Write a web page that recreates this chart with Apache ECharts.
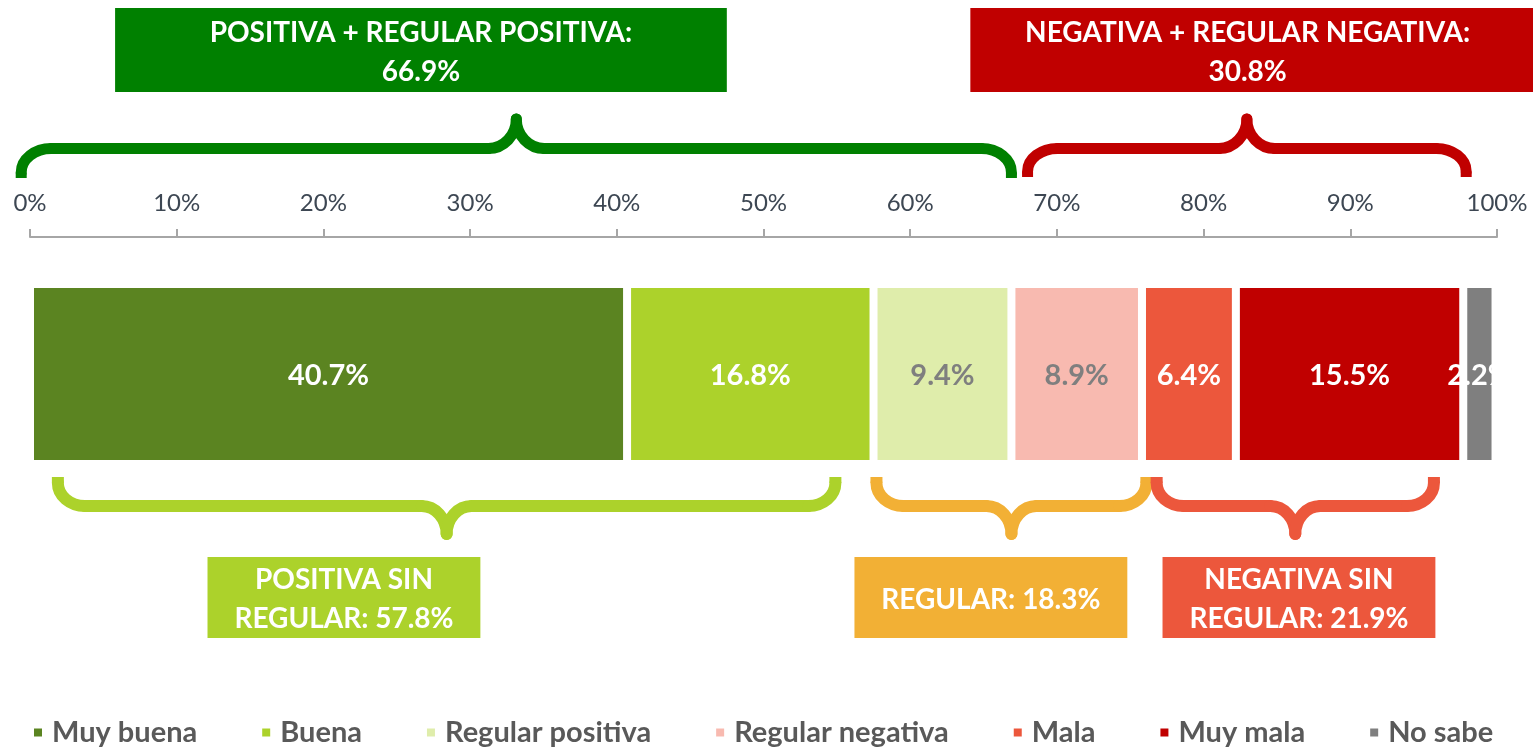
<!DOCTYPE html>
<html>
<head>
<meta charset="utf-8">
<title>Valoración</title>
<script src="https://cdn.jsdelivr.net/npm/echarts@6/dist/echarts.min.js"></script>
<style>
  html, body { margin: 0; padding: 0; background: #fff; }
  #chart { width: 1533px; height: 749px; }
</style>
</head>
<body>
<div id="chart"></div>
<script>
// datos
var categories = ['Muy buena', 'Buena', 'Regular positiva', 'Regular negativa', 'Mala', 'Muy mala', 'No sabe'];
var values = [40.7, 16.8, 9.4, 8.9, 6.4, 15.5, 2.2];
var groupTitles = ['POSITIVA + REGULAR POSITIVA:', 'NEGATIVA + REGULAR NEGATIVA:', 'POSITIVA SIN\nREGULAR:', 'REGULAR:', 'NEGATIVA SIN\nREGULAR:'];
var groupValues = [66.9, 30.8, 57.8, 18.3, 21.9];

var colors = ['#5b8421', '#acd22b', '#dfedab', '#f8bab0', '#ec573c', '#c00000', '#7f7f7f'];
var labelColors = ['#fff', '#fff', '#7f7f7f', '#7f7f7f', '#fff', '#fff', '#fff'];
var FONT = 'Lato, "Open Sans", sans-serif';

var chart = echarts.init(document.getElementById('chart'));

var series = categories.map(function (name, i) {
    return {
        name: name,
        type: 'bar',
        stack: 'total',
        barWidth: 180,
        data: [values[i]],
        itemStyle: { color: colors[i], borderColor: '#fff', borderWidth: 4 },
        label: {
            show: true,
            position: 'inside',
            offset: [0, 2],
            formatter: '{c}%',
            color: labelColors[i],
            fontFamily: FONT,
            fontWeight: 'bold',
            fontSize: 29
        },
        emphasis: { disabled: true }
    };
});

var option = {
    animation: false,
    grid: { left: 30, right: 36, top: 237, height: 274 },
    xAxis: {
        type: 'value',
        position: 'top',
        min: 0,
        max: 100,
        interval: 10,
        axisLine: { show: true, lineStyle: { color: '#a6a6a6', width: 2 } },
        axisTick: { show: true, length: 8, lineStyle: { color: '#a6a6a6', width: 2 } },
        splitLine: { show: false },
        axisLabel: {
            formatter: '{value}%',
            margin: 22,
            color: '#3d4753',
            fontFamily: FONT,
            fontSize: 24
        }
    },
    yAxis: {
        type: 'category',
        data: [''],
        show: false
    },
    legend: {
        data: categories,
        left: 27,
        top: 713,
        icon: 'rect',
        itemWidth: 10,
        itemHeight: 10,
        itemGap: 63,
        selectedMode: false,
        textStyle: {
            color: '#595959',
            fontFamily: FONT,
            fontWeight: 'bold',
            fontSize: 29,
            padding: [0, 0, 0, 4]
        }
    },
    series: series
};
chart.setOption(option);

// llaves y cajas de agrupación (posiciones en % del eje)
function px(p) {
    return chart.convertToPixel({ xAxisIndex: 0 }, p);
}

var K = 0.5523;
function curve(P, C, Q, color, w) {
    // cuarto de curva de P a Q con esquina C
    return {
        type: 'bezierCurve',
        shape: {
            x1: P[0], y1: P[1], x2: Q[0], y2: Q[1],
            cpx1: P[0] + K * (C[0] - P[0]), cpy1: P[1] + K * (C[1] - P[1]),
            cpx2: Q[0] + K * (C[0] - Q[0]), cpy2: Q[1] + K * (C[1] - Q[1])
        },
        style: { fill: null, stroke: color, lineWidth: w, lineCap: 'round' },
        silent: true
    };
}
function seg(xa, xb, y, color, w) {
    return {
        type: 'line',
        shape: { x1: xa, y1: y, x2: xb, y2: y },
        style: { stroke: color, lineWidth: w, lineCap: 'round' },
        silent: true
    };
}
function brace(out, x0, x1, b) {
    var xm = (x0 + x1) / 2;
    var dir = b.yEnd > b.yLine ? 1 : -1;
    // extremos: se acortan media línea para simular el corte recto
    var yE = b.yEnd - dir * b.w / 2;
    out.push(curve([x0, yE], [x0, b.yLine], [x0 + b.rEnd, b.yLine], b.color, b.w));
    out.push(seg(x0 + b.rEnd, xm - b.rTip, b.yLine, b.color, b.w));
    out.push(curve([xm - b.rTip, b.yLine], [xm, b.yLine], [xm, b.yTip], b.color, b.w));
    out.push(curve([xm, b.yTip], [xm, b.yLine], [xm + b.rTip, b.yLine], b.color, b.w));
    out.push(seg(xm + b.rTip, x1 - b.rEnd, b.yLine, b.color, b.w));
    out.push(curve([x1 - b.rEnd, b.yLine], [x1, b.yLine], [x1, yE], b.color, b.w));
    // relleno del corte recto en los extremos
    [x0, x1].forEach(function (x) {
        out.push({
            type: 'rect',
            shape: { x: x - b.w / 2, y: Math.min(yE, b.yEnd), width: b.w, height: Math.abs(b.yEnd - yE) },
            style: { fill: b.color },
            silent: true
        });
    });
}

var braces = [
    { from: -0.6, to: 66.9, color: '#008000', yEnd: 178, yLine: 148.5, yTip: 119, w: 11, rEnd: 30, rTip: 28 },
    { from: 68.0, to: 97.9, color: '#c00000', yEnd: 177, yLine: 148.5, yTip: 119, w: 11, rEnd: 30, rTip: 28 },
    { from: 1.9, to: 54.9, color: '#acd22b', yEnd: 477, yLine: 506, yTip: 534, w: 12, rEnd: 27, rTip: 25 },
    { from: 57.7, to: 76.1, color: '#f2b035', yEnd: 477, yLine: 506, yTip: 534, w: 12, rEnd: 27, rTip: 25 },
    { from: 76.8, to: 95.7, color: '#ec573c', yEnd: 477, yLine: 506, yTip: 534, w: 12, rEnd: 27, rTip: 25 }
];
// textTo: borde derecho usado para centrar el texto
var boxes = [
    { from: 5.8, to: 47.5, textTo: 47.5, top: 8, bottom: 92, color: '#008000' },
    { from: 64.1, to: 103, textTo: 101.9, top: 8, bottom: 92, color: '#c00000' },
    { from: 12.1, to: 30.7, textTo: 30.7, top: 557, bottom: 638, color: '#acd22b' },
    { from: 56.2, to: 74.8, textTo: 74.8, top: 557, bottom: 638, color: '#f2b035' },
    { from: 77.2, to: 95.8, textTo: 95.8, top: 557, bottom: 638, color: '#ec573c' }
];

var graphics = [];
braces.forEach(function (b) {
    brace(graphics, px(b.from), px(b.to), b);
});
boxes.forEach(function (b, i) {
    var x0 = px(b.from), x1 = Math.min(px(b.to), 1533);
    graphics.push({
        type: 'rect',
        shape: { x: x0, y: b.top, width: x1 - x0, height: b.bottom - b.top },
        style: { fill: b.color },
        silent: true
    });
    var sep = (i < 2) ? '\n' : ' ';
    graphics.push({
        type: 'text',
        style: {
            text: groupTitles[i] + sep + groupValues[i].toFixed(1) + '%',
            x: (x0 + px(b.textTo)) / 2,
            y: (b.top + b.bottom) / 2 + 2,
            align: 'center',
            verticalAlign: 'middle',
            fill: '#fff',
            font: 'bold 28px ' + FONT,
            lineHeight: 39
        },
        silent: true
    });
});
chart.setOption({ graphic: { elements: graphics } });
</script>
</body>
</html>
